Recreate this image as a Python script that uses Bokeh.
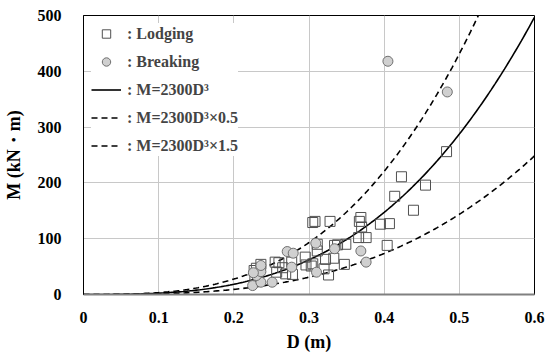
import numpy as np
from bokeh.plotting import figure
from bokeh.models import Range1d, Legend, LegendItem, FixedTicker
from bokeh.embed import file_html
from bokeh.resources import INLINE

# ---- data ----
lodging_D = [0.483, 0.423, 0.455, 0.414, 0.439, 0.395, 0.407, 0.369, 0.367, 0.370,
             0.404, 0.376, 0.366, 0.305, 0.308, 0.328, 0.311, 0.311, 0.338, 0.349,
             0.334, 0.295, 0.322, 0.333, 0.305, 0.296, 0.320, 0.326, 0.347, 0.278,
             0.277, 0.265, 0.260, 0.255, 0.269, 0.257, 0.236, 0.227, 0.303, 0.230,
             0.228]
lodging_M = [256, 211, 196, 176, 151, 126, 127, 138, 131, 121,
             88, 102, 102, 129, 131, 131, 90, 78, 89, 90,
             88, 67, 63, 65, 55, 53, 46, 35, 54, 36,
             58, 48, 57, 58, 37, 40, 54, 43, 51, 47,
             33]
breaking_D = [0.225, 0.236, 0.251, 0.230, 0.236, 0.236, 0.226, 0.271, 0.279, 0.277,
              0.309, 0.334, 0.310, 0.369, 0.376, 0.405, 0.484]
breaking_M = [16, 22, 22, 34, 41, 52, 39, 77, 74, 49,
              92, 82, 40, 78, 58, 418, 363]
coef = 2300
factors = [1.0, 0.5, 1.5]
x_ticks = [0, 0.1, 0.2, 0.3, 0.4, 0.5, 0.6]
x_tick_labels = ["0", "0.1", "0.2", "0.3", "0.4", "0.5", "0.6"]
y_ticks = [0, 100, 200, 300, 400, 500]
legend_labels = [": Lodging", ": Breaking", ": M=2300D³", ": M=2300D³×0.5", ": M=2300D³×1.5"]
x_title = "D (m)"
y_title = "M (kN・m)"

FONT = "Liberation Serif"

p = figure(width=545, height=354, output_backend="svg", toolbar_location=None,
           x_range=Range1d(0, 0.6), y_range=Range1d(0, 500),
           min_border_left=82, min_border_right=11, min_border_top=15, min_border_bottom=59)
p.background_fill_color = "white"
p.outline_line_color = "black"
p.outline_line_width = 1

p.xaxis.ticker = FixedTicker(ticks=x_ticks)
p.xaxis.major_label_overrides = {t: l for t, l in zip(x_ticks, x_tick_labels)}
p.yaxis.ticker = FixedTicker(ticks=y_ticks)
for ax in (p.xaxis, p.yaxis):
    ax.major_tick_line_color = None
    ax.minor_tick_line_color = None
    ax.major_label_text_font = FONT
    ax.major_label_text_font_style = "bold"
    ax.major_label_text_font_size = "16px"
    ax.major_label_text_color = "black"
    ax.axis_label_text_font = FONT
    ax.axis_label_text_font_style = "bold"
    ax.axis_label_text_font_size = "18px"
    ax.axis_label_text_color = "black"
p.xaxis.axis_label = x_title
p.yaxis.axis_label = y_title
p.xaxis.axis_line_color = "#808080"
p.xaxis.axis_line_width = 2
p.yaxis.axis_line_color = "black"
p.xaxis.major_label_standoff = 11
p.yaxis.major_label_standoff = 16
p.xaxis.axis_label_standoff = 6
p.yaxis.axis_label_standoff = 11

p.xgrid.ticker = FixedTicker(ticks=x_ticks)
p.ygrid.ticker = FixedTicker(ticks=y_ticks)
p.grid.grid_line_color = "#c8c8c8"
p.grid.grid_line_width = 1

# curves
dd = np.linspace(0, 0.6, 241)
r_solid = p.line(dd, coef * factors[0] * dd ** 3, line_color="black", line_width=1.6)
r_low = p.line(dd, coef * factors[1] * dd ** 3, line_color="black", line_width=1.6, line_dash="6 4")
r_high = p.line(dd, coef * factors[2] * dd ** 3, line_color="black", line_width=1.6, line_dash="6 4")

r_lod = p.scatter(lodging_D, lodging_M, marker="square", size=10, fill_color=None,
                  line_color="#505050", line_width=1)
r_brk = p.scatter(breaking_D, breaking_M, marker="circle", size=10, fill_color="#d0d0d0",
                  line_color="#707070", line_width=1)

legend = Legend(items=[LegendItem(label=legend_labels[0], renderers=[r_lod]),
                       LegendItem(label=legend_labels[1], renderers=[r_brk]),
                       LegendItem(label=legend_labels[2], renderers=[r_solid]),
                       LegendItem(label=legend_labels[3], renderers=[r_low]),
                       LegendItem(label=legend_labels[4], renderers=[r_high])],
                location="top_left", margin=8, padding=15, spacing=7,
                label_height=21, glyph_height=21, glyph_width=30, label_standoff=6,
                label_text_font=FONT, label_text_font_style="bold",
                label_text_font_size="16px", border_line_color=None,
                background_fill_color="white", background_fill_alpha=1)
p.add_layout(legend)

open("out.html", "w").write(file_html(p, INLINE))
